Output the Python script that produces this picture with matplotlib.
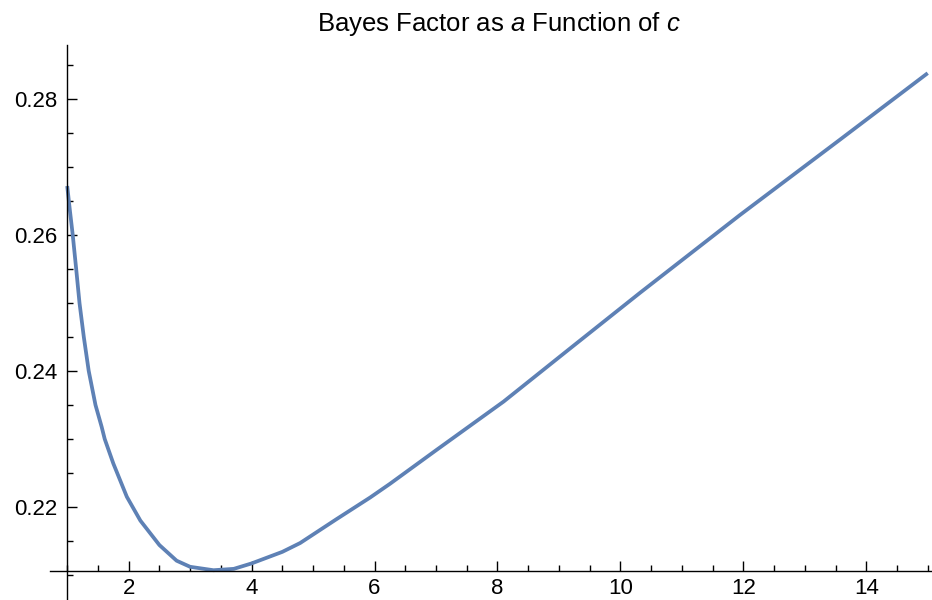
import matplotlib
matplotlib.use("Agg")
import matplotlib.pyplot as plt
import numpy as np
from matplotlib.ticker import MultipleLocator

# values
c_values = [1.0, 1.045, 1.09, 1.146, 1.20, 1.27, 1.35, 1.46, 1.56, 1.61,
            1.75, 1.97, 2.19, 2.50, 2.78, 3.00, 3.38, 3.71, 4.00, 4.50,
            4.79, 5.38, 5.93, 6.25, 7.01, 8.10, 9.18, 10.32, 11.94, 13.57, 15.0]
bayes_factor = [0.2672, 0.2635, 0.2600, 0.2550, 0.2500, 0.2450, 0.2400, 0.2350,
                0.2318, 0.2300, 0.2264, 0.2215, 0.2180, 0.2144, 0.2121, 0.2112,
                0.2107, 0.2109, 0.2117, 0.2134, 0.2147, 0.2182, 0.2214, 0.2234,
                0.2284, 0.2355, 0.2433, 0.2515, 0.2629, 0.2740, 0.2838]
x_major = [2, 4, 6, 8, 10, 12, 14]
y_major = [0.22, 0.24, 0.26, 0.28]

plt.rcParams["font.family"] = ["Liberation Sans", "DejaVu Sans"]
plt.rcParams["mathtext.fontset"] = "custom"
plt.rcParams["mathtext.rm"] = "Liberation Sans"
plt.rcParams["mathtext.it"] = "Liberation Sans:italic"

fig = plt.figure(figsize=(9.32, 6.0), dpi=100)
ax = fig.add_axes([50 / 932, 0.0, 882 / 932, 555 / 600])

ax.plot(c_values, bayes_factor, color="#5E81B5", lw=2.7,
        solid_joinstyle="round", solid_capstyle="butt")

ax.set_xlim(0.72, 15.07)
ax.set_ylim(0.20632, 0.28794)

ax.spines["top"].set_visible(False)
ax.spines["right"].set_visible(False)
ax.spines["left"].set_position(("data", 1.0))
ax.spines["bottom"].set_position(("data", 0.2106))
for s in ("left", "bottom"):
    ax.spines[s].set_linewidth(1.0)

ax.set_xticks(x_major)
ax.set_yticks(y_major)
ax.set_yticklabels([f"{v:.2f}" for v in y_major])
ax.xaxis.set_minor_locator(MultipleLocator(0.5))
ax.yaxis.set_minor_locator(MultipleLocator(0.005))
ax.tick_params(which="both", direction="in", width=1.0, labelsize=16, colors="black")
ax.tick_params(which="major", length=7)
ax.tick_params(which="minor", length=4.5)
ax.tick_params(axis="x", which="major", pad=5)
ax.tick_params(axis="y", which="major", pad=7)

fig.text(499 / 932, 1 - 24 / 600, "Bayes Factor as $a$ Function of $c$",
         ha="center", va="center", fontsize=18.5)

fig.savefig("out.png", dpi=100)
